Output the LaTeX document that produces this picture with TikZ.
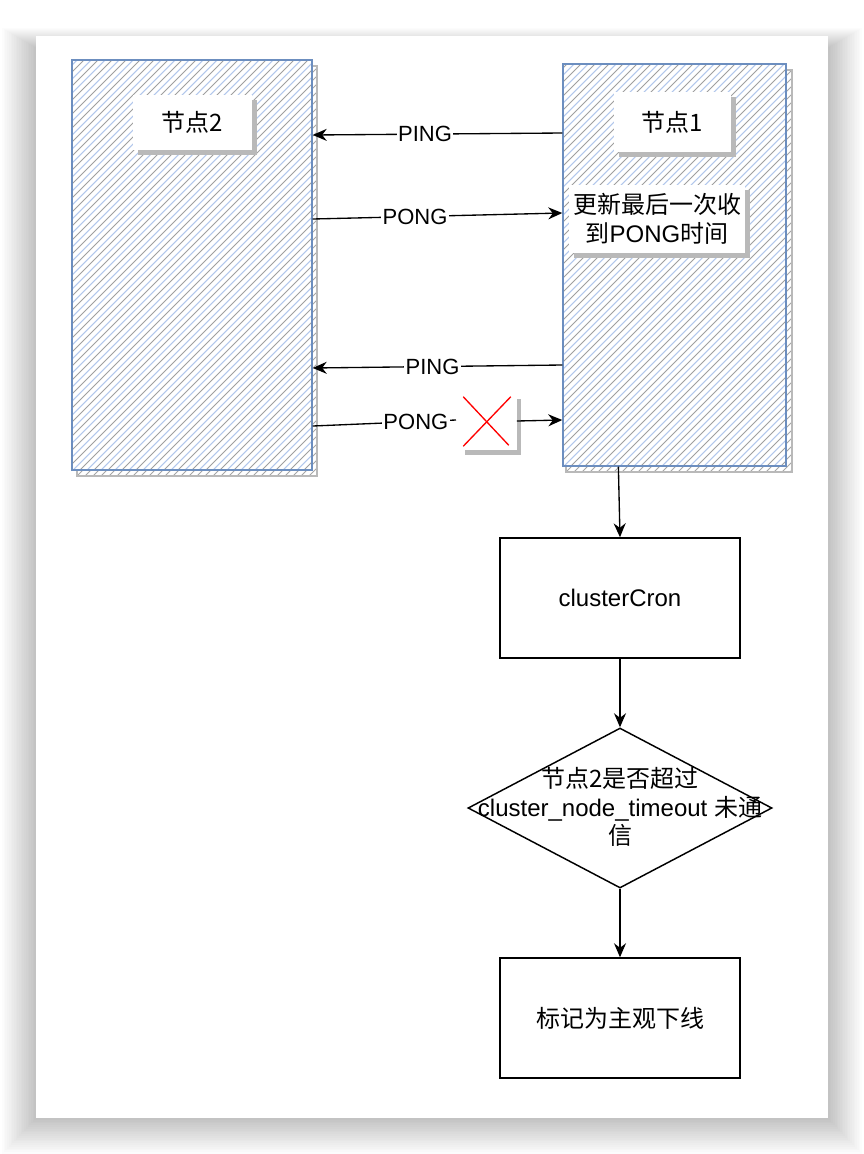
\documentclass[tikz,border=0pt]{standalone}
\usepackage{fontspec}
\setmainfont{Liberation Sans}
\newfontfamily\cjk{Noto Sans CJK SC}
\usetikzlibrary{arrows.meta,shapes.geometric,shadows,calc}

\definecolor{dioblue}{HTML}{6C8EBF}
\definecolor{hatchblue}{HTML}{B2C7EC}

\tikzset{
  hatch/.style={path picture={
    \foreach \i in {-440,-426,...,260}{
      \draw[gray!75, line width=0.65pt] ($(path picture bounding box.south west)+(\i,0)$) -- ++(440,-440);
      \draw[hatchblue, line width=0.8pt] ($(path picture bounding box.south west)+(\i+7,0)$) -- ++(440,-440);
    }}},
  greyhatch/.style={path picture={
    \foreach \i in {-440,-432,...,260}{
      \draw[gray!70, line width=0.6pt] ($(path picture bounding box.south west)+(\i,0)$) -- ++(440,-440);
    }}},
  peer/.style={draw=dioblue, fill=white, line width=1.1pt, hatch, inner sep=0pt},
  peershadow/.style={draw=gray!55, line width=1pt, greyhatch, inner sep=0pt},
  tag/.style={fill=white, inner sep=0pt, font=\fontsize{18}{22}\selectfont,
    drop shadow={shadow xshift=3.5pt, shadow yshift=-3.5pt, fill=gray!55, opacity=1}},
  step box/.style={draw, line width=1.1pt, inner sep=0pt, minimum width=180pt,
    minimum height=90pt, font=\fontsize{18}{22}\selectfont},
  arr/.style={-{Stealth[length=10.5pt, width=9pt]}, line width=1pt},
  elabel/.style={fill=white, inner sep=1pt, font=\fontsize{16.5}{20}\selectfont}
}

\begin{document}
\begin{tikzpicture}[x=0.75pt, y=-0.75pt]
    \useasboundingbox (0,0) rectangle (864,1154);

    % the page and its shadow
    \fill[white] (0,0) rectangle (864,1154);
    \foreach \k in {1,...,20}
      \fill[black, opacity=0.011] (36-1.7*\k,48-1.0*\k) rectangle (828+1.7*\k,1118+1.8*\k);
    \fill[white] (36,36) rectangle (828,1118);

    % the two peers
    \node[peershadow, minimum width=180pt, minimum height=307.5pt] (n2shadow) at (197,271) {};
    \node[peer, minimum width=180pt, minimum height=307.5pt] (n2box) at (192,265) {};
    \node[peershadow, minimum width=169.5pt, minimum height=301.5pt] (n1shadow) at (679,271) {};
    \node[peer, minimum width=167.25pt, minimum height=301.5pt] (n1box) at (674.5,265) {};

    % the labels in the peers
    \node[tag, minimum width=89pt, minimum height=41pt] (n2label) at (192.5,122.5) {\cjk 节点2};
    \node[tag, minimum width=88pt, minimum height=45pt] (n1label) at (672.5,122) {\cjk 节点1};
    \node[tag, minimum width=132pt, minimum height=51pt, align=center] (update) at (657,219)
      {\cjk 更新最后一次收\\\cjk 到{\rmfamily PONG}时间};

    % the lost reply
    \node[fill=white, inner sep=0pt, minimum width=42pt, minimum height=42pt,
      drop shadow={shadow xshift=3pt, shadow yshift=-3.5pt, fill=gray!55, opacity=1}]
      (lost) at (488.5,422) {};
    \draw[red, line width=1pt] ($(lost.north west)+(3,3)$) -- ($(lost.south east)+(-8,-5)$);
    \draw[red, line width=1pt] ($(lost.north east)+(-6,3)$) -- ($(lost.south west)+(3,-4)$);

    % the messages
    \draw[arr] (n1box.west |- 0,133) -- node[elabel, pos=0.55] {PING} (n2box.east |- 0,135);
    \draw[arr] (n2box.east |- 0,219) -- node[elabel, pos=0.41] {PONG} (n1box.west |- 0,213);
    \draw[arr] (n1box.west |- 0,365) -- node[elabel, pos=0.52] {PING} (n2box.east |- 0,368);
    \coordinate (cut) at (456,420);
    \draw[line width=1pt] (n2box.east |- 0,426) -- node[elabel, pos=0.72] {PONG} (cut);
    \draw[arr] (lost.east |- 0,421) -- (n1box.west |- 0,420);

    % the check on node 1
    \node[step box] (cron) at (620,598) {clusterCron};
    \node[draw, diamond, line width=1.1pt, inner sep=0pt, minimum width=228pt,
      minimum height=120pt] (check) at (620,808) {};
    \node[font=\fontsize{18}{21.5}\selectfont, align=center] (checktext) at (620,807)
      {{\cjk 节点2是否超过}\\cluster\_node\_timeout {\cjk 未通}\\{\cjk 信}};
    \node[step box] (offline) at (620,1018) {\cjk 标记为主观下线};

    \draw[arr] ($(n1box.south west)!0.25!(n1box.south east)$) -- (cron.north);
    \draw[arr] (cron.south) -- (check.north);
    \draw[arr] (check.south) -- (offline.north);

\end{tikzpicture}
\end{document}
